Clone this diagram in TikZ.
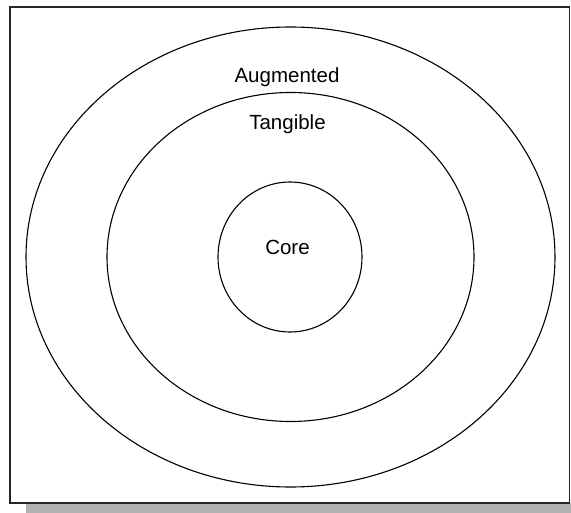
\documentclass[tikz,border=0pt]{standalone}
\usepackage{fontspec}
\setmainfont{Liberation Sans}
\begin{document}
\begin{tikzpicture}[x=1pt,y=-1pt,
  ring/.style={draw=black,line width=1.1pt},
  lbl/.style={font=\fontsize{20.5}{24}\selectfont,inner sep=0pt,anchor=base}]
\useasboundingbox (0,0) rectangle (571,513);
\fill[gray!60] (26,503) rectangle (571,513);
\draw[line width=1.6pt,draw=black!85,fill=white] (10,7) rectangle (569.5,503);
\draw[ring] (290.5,257) ellipse [x radius=264.5,y radius=230];
\draw[ring] (290.5,257) ellipse [x radius=183.5,y radius=164.5];
\draw[ring] (290,257) ellipse [x radius=72,y radius=75];
\node[lbl] (aug) at (287,83) {Augmented};
\node[lbl] (tan) at (287.5,130) {Tangible};
\node[lbl] (core) at (287.5,255) {Core};
\end{tikzpicture}
\end{document}
